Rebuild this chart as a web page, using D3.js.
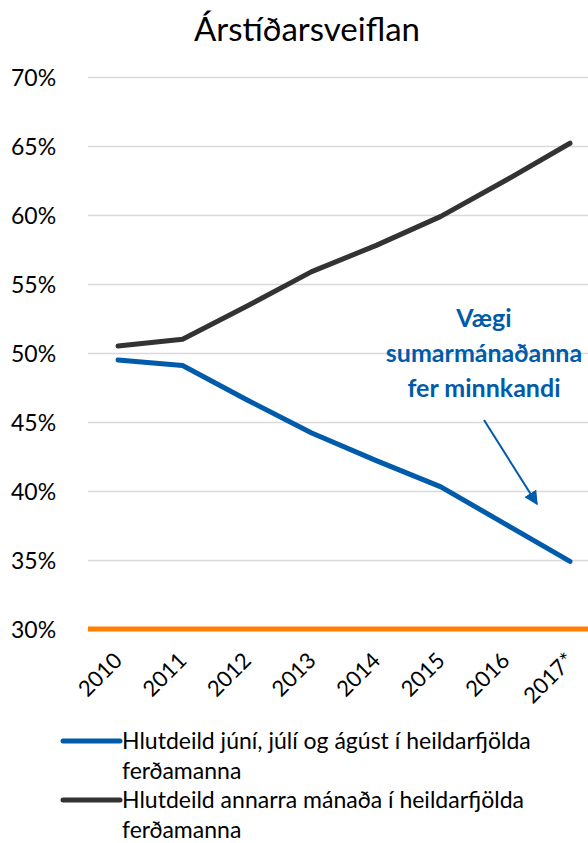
<!DOCTYPE html>
<html>
<head>
<meta charset="utf-8">
<script src="https://cdn.jsdelivr.net/npm/d3@7"></script>
<style>
  body { margin: 0; background: #fff; }
  svg text { font-family: Lato, "Open Sans", sans-serif; }
</style>
</head>
<body>
<div id="chart"></div>
<script>
// --- Data ---
const years = ["2010", "2011", "2012", "2013", "2014", "2015", "2016", "2017*"];
const summerShare = [49.5, 49.1, 46.6, 44.2, 42.2, 40.3, 37.6, 34.9];
const otherShare = [50.5, 51.0, 53.4, 55.9, 57.8, 59.9, 62.5, 65.2];
const yTicks = [30, 35, 40, 45, 50, 55, 60, 65, 70];
const legendLabels = [
  ["Hlutdeild júní, júlí og ágúst í heildarfjölda", "ferðamanna"],
  ["Hlutdeild annarra mánaða í heildarfjölda", "ferðamanna"]
];
const noteLines = ["Vægi", "sumarmánaðanna", "fer minnkandi"];

const W = 588, H = 843;
const blue = "#005BAA", dark = "#333333", orange = "#FF7F00";

const svg = d3.select("#chart").append("svg")
  .attr("width", W)
  .attr("height", H);

// --- Scales ---
const x = d3.scalePoint().domain(years).range([118, 570]);
const y = d3.scaleLinear().domain([30, 70]).range([629, 77]);

// --- Title ---
svg.append("text")
  .attr("x", 307).attr("y", 41)
  .attr("text-anchor", "middle")
  .style("font-size", "33px")
  .attr("fill", "#000")
  .text("Árstíðarsveiflan");

// --- Gridlines + y labels ---
const yAxis = d3.axisLeft(y)
  .tickValues(yTicks)
  .tickSize(-(W - 88))
  .tickFormat(d => d + "%");

const gy = svg.append("g")
  .attr("transform", "translate(88,0)")
  .call(yAxis);
gy.select(".domain").remove();
gy.selectAll(".tick line").attr("stroke", "#d9d9d9").attr("stroke-width", 1.3);
gy.selectAll(".tick text")
  .attr("text-anchor", "start")
  .attr("x", -77)
  .attr("dy", "0.35em")
  .style("font-size", "23px")
  .attr("fill", "#000");

// baseline (orange)
svg.append("line")
  .attr("x1", 88).attr("x2", W)
  .attr("y1", y(30)).attr("y2", y(30))
  .attr("stroke", orange)
  .attr("stroke-width", 5);

// --- X labels ---
const xAxis = d3.axisBottom(x).tickSize(0).tickPadding(0);
const gx = svg.append("g")
  .attr("transform", `translate(0,${y(30)})`)
  .call(xAxis);
gx.select(".domain").remove();
gx.selectAll(".tick text")
  .attr("text-anchor", "end")
  .attr("dy", 0)
  .attr("transform", "translate(5,33) rotate(-45)")
  .style("font-size", "22px")
  .attr("fill", "#000");

// --- Lines ---
const line = d3.line()
  .x((d, i) => x(years[i]))
  .y(d => y(d));

svg.append("path")
  .datum(otherShare)
  .attr("d", line)
  .attr("fill", "none")
  .attr("stroke", dark)
  .attr("stroke-width", 5)
  .attr("stroke-linecap", "round")
  .attr("stroke-linejoin", "round");

svg.append("path")
  .datum(summerShare)
  .attr("d", line)
  .attr("fill", "none")
  .attr("stroke", blue)
  .attr("stroke-width", 5)
  .attr("stroke-linecap", "round")
  .attr("stroke-linejoin", "round");

// --- Annotation ---
svg.append("text")
  .attr("text-anchor", "middle")
  .attr("fill", blue)
  .style("font-size", "25px")
  .style("font-weight", "bold")
  .selectAll("tspan")
  .data(noteLines)
  .join("tspan")
  .attr("x", 484)
  .attr("y", (d, i) => 327 + i * 35)
  .text(d => d);

svg.append("defs").append("marker")
  .attr("id", "arrow")
  .attr("viewBox", "0 0 10 10")
  .attr("refX", 9).attr("refY", 5)
  .attr("markerWidth", 7).attr("markerHeight", 7)
  .attr("markerUnits", "strokeWidth")
  .attr("orient", "auto")
  .append("path")
  .attr("d", "M0,0 L10,5 L0,10 z")
  .attr("fill", blue);

svg.append("line")
  .attr("x1", 484).attr("y1", 420)
  .attr("x2", 537).attr("y2", 504)
  .attr("stroke", blue)
  .attr("stroke-width", 2)
  .attr("marker-end", "url(#arrow)");

// --- Legend ---
const colors = [blue, dark];
const leg = svg.append("g");
legendLabels.forEach((lines, k) => {
  const y0 = 741 + k * 59;
  leg.append("line")
    .attr("x1", 63).attr("x2", 120)
    .attr("y1", y0).attr("y2", y0)
    .attr("stroke", colors[k])
    .attr("stroke-width", 5)
    .attr("stroke-linecap", "round");
  leg.append("text")
    .style("font-size", "23px")
    .attr("fill", "#000")
    .selectAll("tspan")
    .data(lines)
    .join("tspan")
    .attr("x", 122)
    .attr("y", (d, i) => y0 + 8 + i * 30)
    .text(d => d);
});
</script>
</body>
</html>
